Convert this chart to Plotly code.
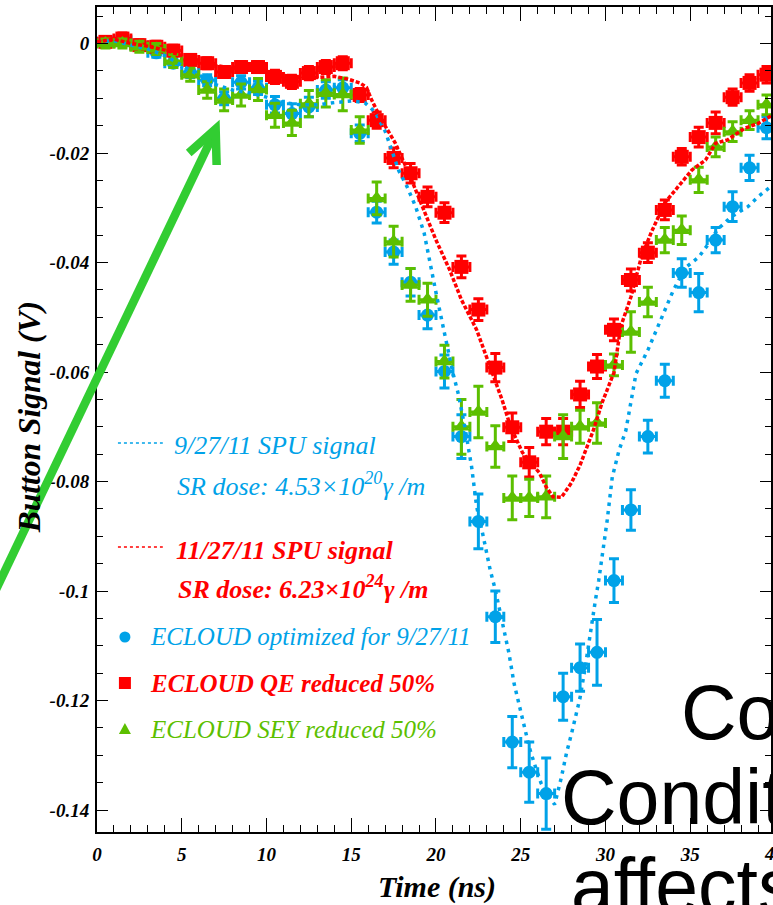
import plotly.graph_objects as go

FIG_W, FIG_H = 773, 905
L, R, T, B = 97, 773, 7, 832          # plot-area pixel box
X_PX_PER_NS = 17.0
Y_PX_PER_V = 5475.0
Y0_PX = 43.5


def px(x):
    return (x - L) / (R - L)


def py(y):
    return (B - y) / (B - T)


# ---------------- data ----------------
time_ns = [0.5, 1.5, 2.5, 3.5, 4.5, 5.5, 6.5, 7.5, 8.5, 9.5,
           10.5, 11.5, 12.5, 13.5, 14.5, 15.5, 16.5, 17.5, 18.5, 19.5,
           20.5, 21.5, 22.5, 23.5, 24.5, 25.5, 26.5, 27.5, 28.5, 29.5,
           30.5, 31.5, 32.5, 33.5, 34.5, 35.5, 36.5, 37.5, 38.5, 39.5]

ecloud_opt = [0.0003, 0.0006, -0.0004, -0.0017, -0.0036, -0.0052, -0.0067, -0.0100, -0.0071, -0.0081,
              -0.0112, -0.0128, -0.0116, -0.0085, -0.0081, -0.0164, -0.0308, -0.0381, -0.0436, -0.0496,
              -0.0599, -0.0718, -0.0873, -0.1047, -0.1276, -0.1331, -0.1370, -0.1193, -0.1140, -0.1112,
              -0.0981, -0.0852, -0.0718, -0.0616, -0.0419, -0.0455, -0.0359, -0.0298, -0.0227, -0.0154]
ecloud_opt_err = [0.0008, 0.0008, 0.0008, 0.0008, 0.0008, 0.0010, 0.0010, 0.0012, 0.0012, 0.0012,
                  0.0015, 0.0018, 0.0018, 0.0015, 0.0015, 0.0015, 0.0020, 0.0022, 0.0025, 0.0025,
                  0.0030, 0.0040, 0.0050, 0.0047, 0.0047, 0.0055, 0.0065, 0.0043, 0.0043, 0.0060,
                  0.0040, 0.0037, 0.0030, 0.0030, 0.0026, 0.0035, 0.0023, 0.0027, 0.0023, 0.0020]

ecloud_qe = [0.0003, 0.0009, -0.0003, -0.0006, -0.0013, -0.0030, -0.0036, -0.0052, -0.0043, -0.0043,
             -0.0061, -0.0070, -0.0054, -0.0043, -0.0036, -0.0094, -0.0140, -0.0209, -0.0237, -0.0280,
             -0.0309, -0.0408, -0.0486, -0.0592, -0.0701, -0.0765, -0.0709, -0.0709, -0.0641, -0.0590,
             -0.0523, -0.0432, -0.0382, -0.0304, -0.0207, -0.0171, -0.0145, -0.0098, -0.0072, -0.0057]
ecloud_qe_err = [0.0010, 0.0010, 0.0010, 0.0010, 0.0010, 0.0010, 0.0010, 0.0010, 0.0010, 0.0010,
                 0.0012, 0.0012, 0.0012, 0.0012, 0.0012, 0.0012, 0.0015, 0.0018, 0.0018, 0.0018,
                 0.0018, 0.0020, 0.0020, 0.0026, 0.0026, 0.0027, 0.0024, 0.0024, 0.0024, 0.0022,
                 0.0020, 0.0020, 0.0018, 0.0018, 0.0015, 0.0018, 0.0020, 0.0015, 0.0015, 0.0015]

ecloud_sey = [0.0000, 0.0000, -0.0006, -0.0010, -0.0032, -0.0057, -0.0085, -0.0103, -0.0094, -0.0084,
              -0.0131, -0.0145, -0.0110, -0.0091, -0.0093, -0.0158, -0.0283, -0.0362, -0.0441, -0.0468,
              -0.0581, -0.0700, -0.0673, -0.0736, -0.0830, -0.0830, -0.0828, -0.0718, -0.0700, -0.0693,
              -0.0587, -0.0527, -0.0472, -0.0359, -0.0341, -0.0249, -0.0189, -0.0161, -0.0140, -0.0112]
ecloud_sey_err = [0.0008, 0.0008, 0.0010, 0.0010, 0.0012, 0.0012, 0.0015, 0.0020, 0.0020, 0.0020,
                  0.0022, 0.0023, 0.0024, 0.0025, 0.0030, 0.0024, 0.0030, 0.0028, 0.0030, 0.0030,
                  0.0030, 0.0050, 0.0047, 0.0038, 0.0040, 0.0034, 0.0038, 0.0040, 0.0030, 0.0037,
                  0.0020, 0.0037, 0.0027, 0.0023, 0.0026, 0.0023, 0.0018, 0.0018, 0.0017, 0.0018]

spu_0927_t = [0, 1, 2, 3, 4, 5, 6, 7, 8, 9, 10, 11, 12, 13, 14, 15, 15.8, 16.4, 17.0, 17.2,
              17.8, 18.3, 18.8, 19.3, 19.6, 20.0, 20.5, 21.0, 21.3, 21.7, 22.1, 22.4, 22.8, 23.2,
              23.5, 23.9, 24.3, 24.6, 25.1, 25.5, 25.8, 26.2, 26.7, 27.0, 27.4, 27.7, 28.0, 28.3,
              28.5, 28.8, 29.0, 29.2, 29.4, 29.6, 29.8, 30.1, 30.4, 30.8, 31.2, 31.5, 31.8, 32.5,
              32.9, 33.5, 34.0, 34.7, 35.5, 36.1, 36.6, 37.4, 38.4, 39.0, 39.6, 40.0]
spu_0927_v = [0.0003, 0.0005, -0.0003, -0.0010, -0.0022, -0.0040, -0.0058, -0.0075, -0.0085, -0.0090,
              -0.0098, -0.0108, -0.0112, -0.0112, -0.0108, -0.0105, -0.0108, -0.0125, -0.0160, -0.0177,
              -0.0232, -0.0262, -0.0298, -0.0346, -0.0395, -0.0455, -0.0529, -0.0602, -0.0638, -0.0700,
              -0.0773, -0.0846, -0.0902, -0.0962, -0.0998, -0.1053, -0.1113, -0.1168, -0.1230, -0.1285,
              -0.1315, -0.1351, -0.1377, -0.1390, -0.1340, -0.1296, -0.1260, -0.1224, -0.1195, -0.1140,
              -0.1096, -0.1054, -0.1018, -0.0981, -0.0939, -0.0871, -0.0792, -0.0743, -0.0707, -0.0657,
              -0.0603, -0.0560, -0.0530, -0.0487, -0.0451, -0.0410, -0.0390, -0.0365, -0.0340, -0.0317,
              -0.0298, -0.0280, -0.0264, -0.0255]

spu_1127_t = [0, 1, 2, 3, 4, 5, 6, 7, 8, 9, 10, 11, 12, 13, 14, 14.8, 15.5, 15.9, 16.2, 16.8,
              17.6, 18.4, 19.2, 20.0, 20.8, 21.5, 22.4, 23.1, 23.9, 24.4, 25.1, 25.7, 26.1, 26.5,
              26.9, 27.4, 28.0, 28.5, 28.8, 29.3, 29.8, 30.5, 30.9, 31.5, 32.1, 32.7, 33.5, 34.1,
              35.1, 35.9, 36.5, 37.2, 38.2, 39.0, 40.0]
spu_1127_v = [0.0003, 0.0008, 0.0000, -0.0005, -0.0012, -0.0022, -0.0032, -0.0040, -0.0045, -0.0048,
              -0.0052, -0.0058, -0.0062, -0.0062, -0.0060, -0.0065, -0.0072, -0.0080, -0.0103, -0.0140,
              -0.0182, -0.0237, -0.0298, -0.0359, -0.0413, -0.0468, -0.0523, -0.0583, -0.0651, -0.0700,
              -0.0747, -0.0770, -0.0784, -0.0810, -0.0828, -0.0829, -0.0802, -0.0770, -0.0747, -0.0705,
              -0.0656, -0.0601, -0.0517, -0.0463, -0.0392, -0.0345, -0.0291, -0.0268, -0.0231, -0.0213,
              -0.0182, -0.0176, -0.0155, -0.0146, -0.0128]

x_tick_vals = [0, 5, 10, 15, 20, 25, 30, 35]
y_tick_vals = [0, -0.02, -0.04, -0.06, -0.08, -0.10, -0.12, -0.14]
y_tick_text = ["0", "-0.02", "-0.04", "-0.06", "-0.08", "-0.1", "-0.12", "-0.14"]

BLUE = "#00a2e8"
RED = "#ff0000"
GREEN = "#5cbf00"
ARROW = "#32cd32"

# axis ranges from the pixel box
x_max = (R - L) / X_PX_PER_NS
y_top = (Y0_PX - T) / Y_PX_PER_V
y_bot = -(B - Y0_PX) / Y_PX_PER_V

fig = go.Figure()


def pts(y, err, color, symbol, size):
    return go.Scatter(
        x=time_ns, y=y, mode="markers",
        marker=dict(color=color, symbol=symbol, size=size, line=dict(width=0)),
        error_y=dict(type="data", array=err, color=color, thickness=3, width=5),
        error_x=dict(type="constant", value=0.5, color=color, thickness=3, width=5),
        showlegend=False, cliponaxis=True,
    )


fig.add_trace(pts(ecloud_opt, ecloud_opt_err, BLUE, "circle", 13))
fig.add_trace(pts(ecloud_qe, ecloud_qe_err, RED, "square", 14))
fig.add_trace(pts(ecloud_sey, ecloud_sey_err, GREEN, "triangle-up", 15))

fig.add_trace(go.Scatter(x=spu_0927_t, y=spu_0927_v, mode="lines",
                         line=dict(color=BLUE, width=3.5, dash="3.5px,5px"),
                         showlegend=False))
fig.add_trace(go.Scatter(x=spu_1127_t, y=spu_1127_v, mode="lines",
                         line=dict(color=RED, width=3.5, dash="4px,2px"),
                         showlegend=False))

tickfont = dict(family="Liberation Serif", size=19, color="black", style="italic", weight="bold")

fig.update_xaxes(
    range=[0, x_max], showgrid=False, zeroline=False,
    showline=True, linecolor="black", linewidth=2, mirror="ticks",
    ticks="inside", ticklen=14, tickwidth=1.3, tickcolor="black",
    tickmode="array", tickvals=x_tick_vals,
    minor=dict(ticks="inside", ticklen=7, tickwidth=1.3, tickcolor="black",
               tickmode="linear", tick0=0, dtick=1),
    tickfont=tickfont, ticklabelstandoff=4,
)
fig.update_yaxes(
    range=[y_bot, y_top], showgrid=False, zeroline=False,
    showline=True, linecolor="black", linewidth=2, mirror="ticks",
    ticks="inside", ticklen=11, tickwidth=1.3, tickcolor="black",
    tickmode="array", tickvals=y_tick_vals, ticktext=y_tick_text,
    minor=dict(ticks="inside", ticklen=6, tickwidth=1.3, tickcolor="black",
               tickmode="linear", tick0=0, dtick=0.005),
    tickfont=tickfont, ticklabelstandoff=2,
)

ann = []
# axis titles
ann.append(dict(text="Time (ns)", x=px(438), y=py(887), xref="paper", yref="paper",
                xanchor="center", yanchor="middle", showarrow=False,
                font=dict(family="Liberation Serif", size=30, color="black", style="italic", weight="bold")))
ann.append(dict(text="Button Signal (V)", x=px(29), y=py(417), xref="paper", yref="paper",
                xanchor="center", yanchor="middle", textangle=-90, showarrow=False,
                font=dict(family="Liberation Serif", size=31.5, color="black", style="italic", weight="bold")))
# the partly visible "40" tick label
ann.append(dict(text="40", x=px(777), y=py(853), xref="paper", yref="paper",
                xanchor="center", yanchor="middle", showarrow=False, font=tickfont))


def legend_text(text, x, baseline, color, size, bold):
    f = dict(family="Liberation Serif", size=size, color=color, style="italic",
             weight="bold" if bold else "normal")
    return dict(text=text, x=px(x), y=py(baseline + 0.22 * size + 1), xref="paper", yref="paper",
                xanchor="left", yanchor="bottom", showarrow=False, font=f)


ann.append(legend_text("9/27/11 SPU signal", 172, 455, BLUE, 26, False))
ann.append(legend_text("SR dose: 4.53×10<sup>20</sup>γ /m", 175, 496, BLUE, 26, False))
ann.append(legend_text("11/27/11 SPU signal", 174, 560, RED, 26, True))
ann.append(legend_text("SR dose: 6.23×10<sup>24</sup>γ /m", 176, 599, RED, 26, True))
ann.append(legend_text("ECLOUD optimized for 9/27/11", 148, 645, BLUE, 25, False))
ann.append(legend_text("ECLOUD QE reduced 50%", 148, 692, RED, 25, True))
ann.append(legend_text("ECLOUD SEY reduced 50%", 148, 738, GREEN, 25, False))

# overlaid slide text (cut off on the right)
big = dict(family="Liberation Sans", size=77, color="black")
for txt, x, base in [("Co", 681, 740), ("Condit", 560, 825), ("affects", 570, 914)]:
    ann.append(dict(text=txt, x=px(x), y=py(base + 0.212 * 77 + 1), xref="paper", yref="paper",
                    xanchor="left", yanchor="bottom", showarrow=False, font=big))

shapes = []
# legend line samples
for yy, col in [(443, BLUE), (547, RED)]:
    shapes.append(dict(type="line", xref="paper", yref="paper", x0=px(118), x1=px(163),
                       y0=py(yy), y1=py(yy), line=dict(color=col, width=1.6, dash="dot")))
# legend marker samples
shapes.append(dict(type="circle", xref="paper", yref="paper", xsizemode="pixel", ysizemode="pixel",
                   xanchor=px(125), yanchor=py(637), x0=-5.5, x1=5.5, y0=-5.5, y1=5.5,
                   fillcolor=BLUE, line=dict(width=0)))
shapes.append(dict(type="rect", xref="paper", yref="paper", xsizemode="pixel", ysizemode="pixel",
                   xanchor=px(125), yanchor=py(683), x0=-6, x1=6, y0=-6, y1=6,
                   fillcolor=RED, line=dict(width=0)))
shapes.append(dict(type="path", xref="paper", yref="paper", xsizemode="pixel", ysizemode="pixel",
                   xanchor=px(125), yanchor=py(729), path="M -6,-5 L 6,-5 L 0,6 Z",
                   fillcolor=GREEN, line=dict(width=0)))

# green arrow
tip = (216, 129)
tail = (-20, 129 + 236 * 2.09)
b1 = (189, 153)
b2 = (217, 165)
shapes.append(dict(type="line", xref="paper", yref="paper",
                   x0=px(tail[0]), y0=py(tail[1]), x1=px(tip[0] - 1), y1=py(tip[1] + 3),
                   line=dict(color=ARROW, width=8.5)))
shapes.append(dict(type="path", xref="paper", yref="paper",
                   path=f"M {px(b1[0])},{py(b1[1])} L {px(tip[0])},{py(tip[1])} L {px(b2[0])},{py(b2[1])}",
                   line=dict(color=ARROW, width=8.5)))

fig.update_layout(
    width=FIG_W, height=FIG_H,
    margin=dict(l=L, r=FIG_W - R, t=T, b=FIG_H - B, pad=0),
    paper_bgcolor="white", plot_bgcolor="white",
    annotations=ann, shapes=shapes, showlegend=False,
)

fig.write_html("out.html")
